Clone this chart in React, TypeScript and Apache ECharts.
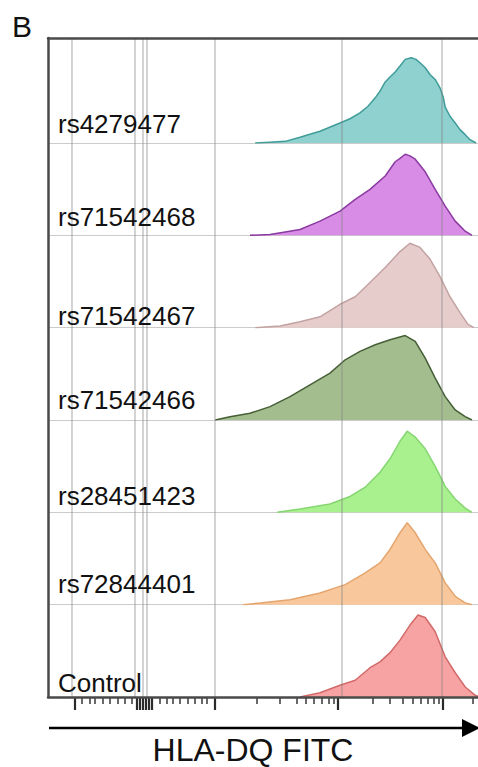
import React, { useEffect, useRef } from 'react';
import * as echarts from 'echarts';

// ---------- data ----------
const LABELS = ['rs4279477', 'rs71542468', 'rs71542467', 'rs71542466', 'rs28451423', 'rs72844401', 'Control'];

// display channel (biexponential scale) and count (% of mode)
const X_RS4279477 = [518, 555, 593, 630, 680, 730, 755, 780, 800, 818, 830, 843, 855, 868, 880, 893, 908, 920, 930, 943, 955, 968, 980, 988, 993, 1005, 1018, 1030, 1043, 1055, 1070];
const Y_RS4279477 = [0, 1, 2, 7, 14, 24, 29, 36, 44, 54, 62, 73, 79, 85, 92, 100, 102, 100, 96, 90, 82, 76, 66, 55, 43, 32, 24, 16, 10, 4, 0];

const X_RS71542468 = [505, 555, 593, 630, 680, 730, 768, 805, 843, 868, 880, 893, 905, 918, 943, 968, 993, 1018, 1043, 1060];
const Y_RS71542468 = [0, 1, 4, 7, 17, 29, 43, 55, 71, 88, 92, 97, 95, 91, 76, 55, 35, 17, 5, 0];

const X_RS71542467 = [518, 580, 630, 680, 730, 768, 805, 843, 880, 905, 930, 955, 980, 1005, 1030, 1050, 1065];
const Y_RS71542467 = [0, 2, 7, 13, 28, 37, 54, 72, 91, 101, 96, 82, 61, 37, 18, 4, 0];

const X_RS71542466 = [418, 455, 505, 555, 605, 655, 705, 743, 780, 818, 855, 893, 918, 943, 968, 993, 1018, 1043, 1060];
const Y_RS71542466 = [0, 4, 8, 16, 28, 42, 56, 72, 82, 90, 96, 101, 94, 74, 50, 28, 12, 4, 0];

const X_RS28451423 = [573, 630, 705, 755, 793, 830, 855, 880, 898, 918, 943, 968, 993, 1018, 1043, 1060];
const Y_RS28451423 = [0, 4, 10, 19, 30, 48, 64, 85, 97, 90, 76, 55, 31, 16, 5, 0];

const X_RS72844401 = [488, 530, 605, 680, 743, 793, 830, 855, 880, 898, 918, 943, 968, 993, 1018, 1043, 1060];
const Y_RS72844401 = [0, 2, 6, 14, 24, 38, 50, 66, 86, 98, 86, 66, 50, 26, 10, 2, 0];

const X_CONTROL = [630, 680, 730, 768, 805, 830, 855, 880, 905, 925, 943, 968, 993, 1018, 1043, 1068, 1075];
const Y_CONTROL = [0, 5, 14, 20, 35, 42, 53, 68, 86, 98, 95, 78, 48, 29, 12, 2, 1];

const SERIES_X = [X_RS4279477, X_RS71542468, X_RS71542467, X_RS71542466, X_RS28451423, X_RS72844401, X_CONTROL];
const SERIES_Y = [Y_RS4279477, Y_RS71542468, Y_RS71542467, Y_RS71542466, Y_RS28451423, Y_RS72844401, Y_CONTROL];

const GRID_LINES = [60, 217.5, 237.5, 247.5, 417.5, 735, 985];
const MAJOR_TICKS = [67.5, 222.5, 230, 237.5, 245, 252.5, 260, 417.5, 725, 987.5];
const MINOR_TICKS = [85, 105, 117.5, 137.5, 155, 175, 192.5, 210, 280, 297.5, 312.5, 330, 350, 367.5, 385, 397.5,
  522.5, 580, 622.5, 645, 665, 685, 702.5, 715, 812.5, 855, 887.5, 912.5, 932.5, 950, 965, 977.5, 1062.5];

const AXIS_TITLE = 'HLA-DQ FITC';
const PANEL_LETTER = 'B';

// ---------- styles / layout ----------
const FILLS = ['#8fd1cf', '#d88ce6', '#e6cdcc', '#a4bd8f', '#a9f08f', '#f8c89c', '#f8a3a3'];
const STROKES = ['#3f9c99', '#8a3aa0', '#c2a3a2', '#465f36', '#86d672', '#e5a56f', '#d26a6a'];
const W = 478, H = 767;
const X_MAX = 1075, Y_MAX = 110;
const FRAME_LEFT = 48, FRAME_TOP = 38, FRAME_BOTTOM = 697, PANEL_H = 92.33;
const LABEL_RISE = [19, 18.5, 11.5, 20, 16.5, 20.5, 14];
const FONT = '"Liberation Sans", Arial, sans-serif';
const FRAME_LINE = { show: true, lineStyle: { color: '#4a4a4a', width: 2.5 } };

export default function App() {
  const ref = useRef<HTMLDivElement>(null);
  useEffect(() => {
    const chart = echarts.init(ref.current!, null, { renderer: 'svg' });
    const n = LABELS.length;
    const grids: any[] = [{ left: FRAME_LEFT, top: FRAME_TOP, right: 0, bottom: H - FRAME_BOTTOM }];
    const hidden = { axisTick: { show: false }, axisLabel: { show: false }, splitLine: { show: false } };
    const xAxes: any[] = [
      { gridIndex: 0, type: 'value', min: 0, max: X_MAX, position: 'bottom', axisLine: { ...FRAME_LINE, onZero: false }, z: 8, ...hidden },
      { gridIndex: 0, type: 'value', min: 0, max: X_MAX, position: 'top', axisLine: { ...FRAME_LINE, onZero: false }, z: 8, ...hidden },
    ];
    const yAxes: any[] = [
      { gridIndex: 0, type: 'value', min: 0, max: 1, position: 'left', axisLine: { ...FRAME_LINE, onZero: false }, z: 8, ...hidden },
    ];
    const series: any[] = [];
    const graphics: any[] = [];
    for (let i = 0; i < n; i++) {
      const base = FRAME_BOTTOM - (n - 1 - i) * PANEL_H;
      grids.push({ left: FRAME_LEFT, right: 0, top: base - 92, height: 92 });
      xAxes.push({
        gridIndex: i + 1, type: 'value', min: 0, max: X_MAX,
        axisLine: { show: i < n - 1, lineStyle: { color: 'rgba(160,160,160,0.55)', width: 1.2 } },
        ...hidden,
      });
      yAxes.push({ gridIndex: i + 1, type: 'value', min: 0, max: Y_MAX, show: false });
      series.push({
        type: 'line', xAxisIndex: i + 2, yAxisIndex: i + 1,
        data: SERIES_X[i].map((x, j) => [x, SERIES_Y[i][j]]),
        symbol: 'none', silent: true, z: 2,
        lineStyle: { color: STROKES[i], width: 1.5 },
        areaStyle: { color: FILLS[i], opacity: 1 },
      });
      graphics.push({
        type: 'text', x: 58, y: base - LABEL_RISE[i], z: 100,
        style: { text: LABELS[i], font: `26px ${FONT}`, fill: '#111', align: 'left', verticalAlign: 'middle' },
      });
    }
    series.push({
      type: 'line', xAxisIndex: 0, yAxisIndex: 0, data: [[0, 0]], symbol: 'none',
      lineStyle: { opacity: 0 }, silent: true, z: 5,
      markLine: {
        silent: true, symbol: ['none', 'none'], label: { show: false }, animation: false,
        lineStyle: { color: 'rgba(130,130,130,0.45)', width: 1.6, type: 'solid' },
        data: GRID_LINES.map((v) => ({ xAxis: v })),
      },
    });
    const tickSeries = (ticks: number[], len: number, lw: number) => ({
      type: 'custom', xAxisIndex: 0, yAxisIndex: 0, clip: false, silent: true, z: 7,
      data: ticks.map((v) => [v, 0]),
      renderItem: (_p: any, api: any) => {
        const p = api.coord([api.value(0), 0]);
        return { type: 'line', shape: { x1: p[0], y1: p[1], x2: p[0], y2: p[1] + len }, style: { stroke: '#2a2a2a', lineWidth: lw } };
      },
    });
    series.push(tickSeries(MAJOR_TICKS, 13, 2.2));
    series.push(tickSeries(MINOR_TICKS, 7, 1.4));

    graphics.push({
      type: 'text', x: 12, y: 26, z: 100,
      style: { text: PANEL_LETTER, font: `30px ${FONT}`, fill: '#111', align: 'left', verticalAlign: 'middle' },
    });
    graphics.push({
      type: 'line', z: 100, shape: { x1: 49, y1: 728, x2: 466, y2: 728 },
      style: { stroke: '#000', lineWidth: 2.6 },
    });
    graphics.push({
      type: 'polygon', z: 100, shape: { points: [[462, 719], [480, 728], [462, 737]] },
      style: { fill: '#000' },
    });
    graphics.push({
      type: 'text', x: 253, y: 750, z: 100,
      style: { text: AXIS_TITLE, font: `32px ${FONT}`, fill: '#111', align: 'center', verticalAlign: 'middle', lineHeight: 30 },
    });

    chart.setOption({
      animation: false,
      backgroundColor: '#ffffff',
      grid: grids, xAxis: xAxes, yAxis: yAxes, series, graphic: graphics,
    });
    return () => chart.dispose();
  }, []);
  return <div ref={ref} style={{ position: 'fixed', left: 0, top: 0, width: W, height: H }} />;
}
